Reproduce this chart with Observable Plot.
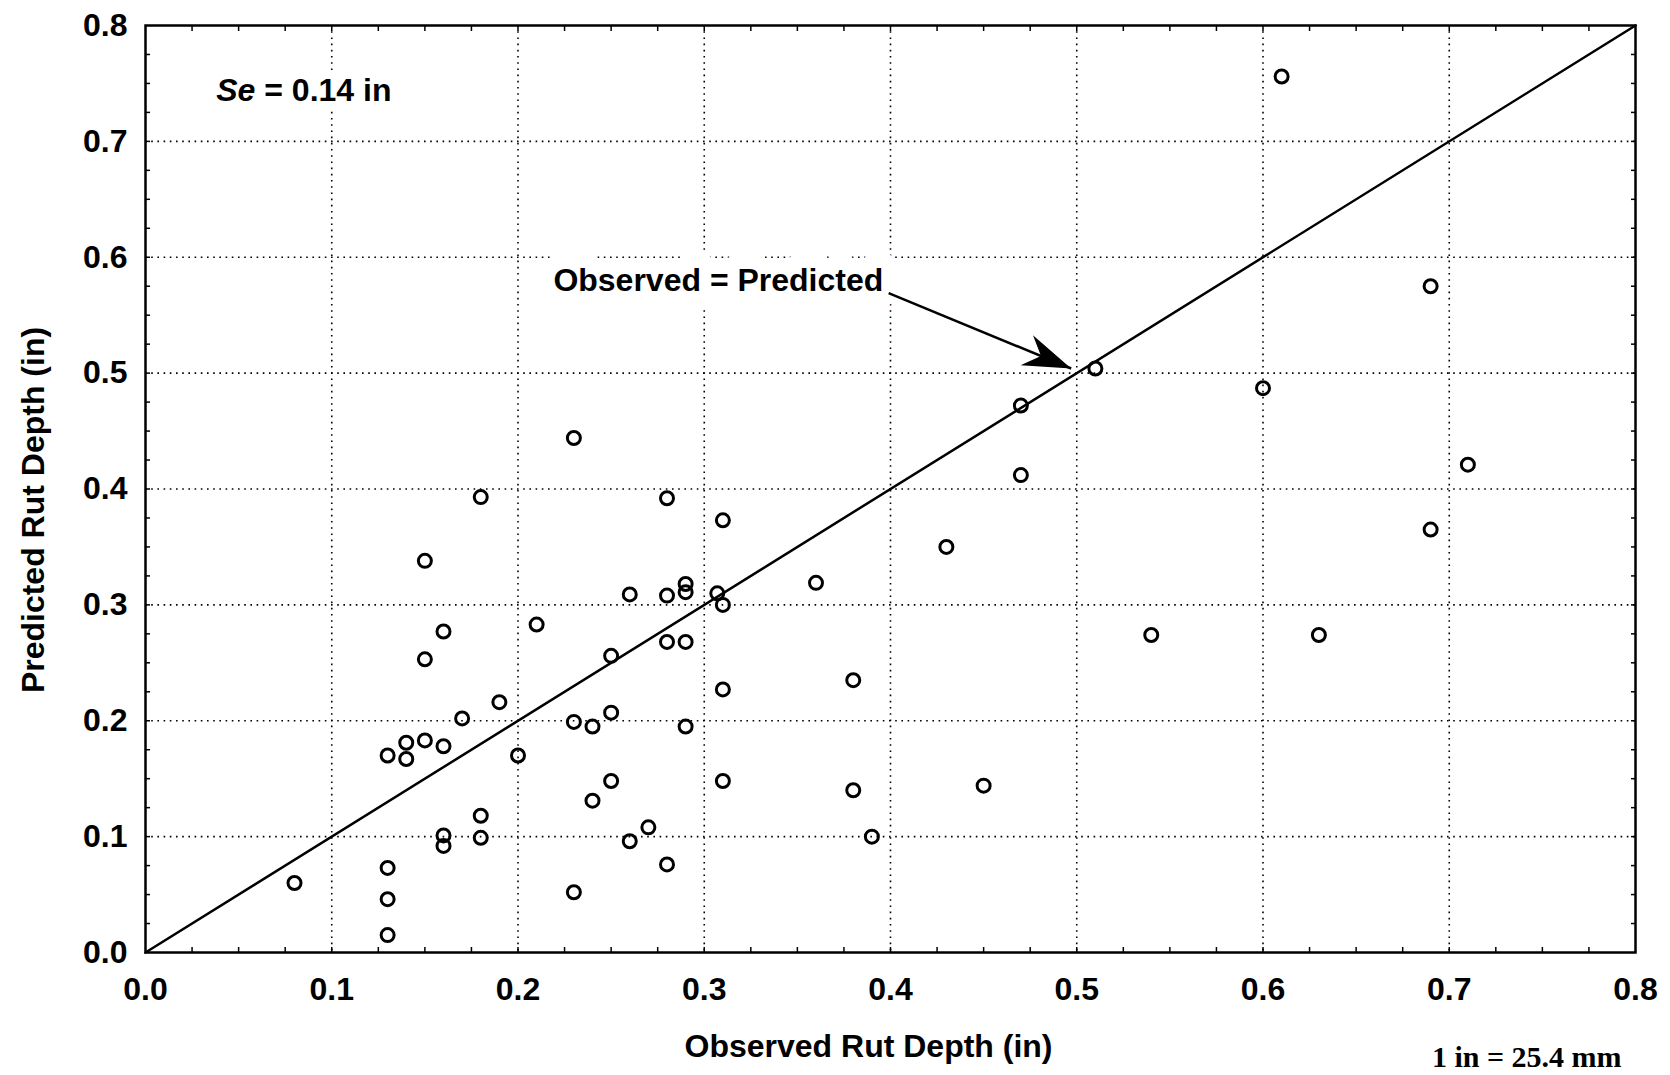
<!DOCTYPE html>
<html><head><meta charset="utf-8">
<script src="https://cdn.jsdelivr.net/npm/d3@7"></script>
<script src="https://cdn.jsdelivr.net/npm/@observablehq/plot@0.6"></script>
<style>html,body{margin:0;padding:0;background:#fff;} #chart{width:1670px;height:1075px;}</style>
</head><body><div id="chart"></div>
<script>
// ---- data ----
const observed = [0.08,0.13,0.13,0.13,0.13,0.14,0.14,0.15,0.15,0.15,0.16,0.16,0.16,0.16,0.17,0.18,0.18,0.18,0.19,0.20,0.21,0.23,0.23,0.23,0.24,0.24,0.25,0.25,0.25,0.26,0.26,0.27,0.28,0.28,0.28,0.28,0.29,0.29,0.29,0.29,0.307,0.31,0.31,0.31,0.31,0.36,0.38,0.38,0.39,0.43,0.45,0.47,0.47,0.51,0.54,0.60,0.61,0.63,0.69,0.69,0.71];
const predicted = [0.060,0.073,0.046,0.015,0.170,0.181,0.167,0.183,0.253,0.338,0.277,0.178,0.101,0.092,0.202,0.393,0.118,0.099,0.216,0.170,0.283,0.444,0.199,0.052,0.195,0.131,0.256,0.207,0.148,0.309,0.096,0.108,0.392,0.308,0.268,0.076,0.318,0.311,0.268,0.195,0.310,0.300,0.373,0.227,0.148,0.319,0.235,0.140,0.100,0.350,0.144,0.472,0.412,0.504,0.274,0.487,0.756,0.274,0.575,0.365,0.421];
const xTicks = [0,0.1,0.2,0.3,0.4,0.5,0.6,0.7,0.8];
const yTicks = [0,0.1,0.2,0.3,0.4,0.5,0.6,0.7,0.8];
const gridValues = [0.1,0.2,0.3,0.4,0.5,0.6,0.7];
const minorTicks = d3.range(1, 32).map(i => +(i * 0.025).toFixed(3));
const diagonal = [0, 0.8];
const xLabel = "Observed Rut Depth (in)";
const yLabel = "Predicted Rut Depth (in)";
const unitNote = "1 in = 25.4 mm";
const seSymbol = "Se";
const seRest = "= 0.14 in";
const seAnchor = [{x: 0.038, y: 0.744}];
const lineLabel = "Observed = Predicted";
const lineLabelAnchor = [{x: 0.219, y: 0.580}];
const arrowSeg = [{x1: 0.399, y1: 0.569, x2: 0.497, y2: 0.504}];

// ---- layout ----
const W = 1670, H = 1075, ML = 145, MR = 35, MT = 25, MB = 123;
const points = observed.map((o, i) => ({o, p: predicted[i]}));
const sx = (W - ML - MR) / 0.8, sy = (H - MT - MB) / 0.8;
const a = arrowSeg[0];
const angle = Math.atan2((a.y1 - a.y2) * sy, (a.x2 - a.x1) * sx) * 180 / Math.PI;
const arrowHead = {draw(ctx, size) {
  const r = Math.sqrt(size / Math.PI);
  const L = 4.0 * r, Wd = 1.35 * r, N = 0.68 * L;
  ctx.moveTo(0, 0); ctx.lineTo(-L, -Wd); ctx.lineTo(-N, 0); ctx.lineTo(-L, Wd); ctx.closePath();
}};
const font = "'Liberation Sans', Arial, Helvetica, sans-serif";
const grid = {stroke: "black", strokeOpacity: 1, strokeWidth: 1.6, strokeDasharray: "1.6,4.6"};
const minor = {ticks: minorTicks, tickSize: -5, fill: "none", stroke: "black", strokeWidth: 1.5, label: null};

const chart = Plot.plot({
  width: W, height: H,
  marginLeft: ML, marginRight: MR, marginTop: MT, marginBottom: MB,
  style: {fontFamily: font, fontSize: "32px", fontWeight: "bold", color: "black", background: "white"},
  x: {domain: [0, 0.8], axis: null, label: null},
  y: {domain: [0, 0.8], axis: null, label: null},
  marks: [
    Plot.gridX(gridValues, grid),
    Plot.gridY(gridValues, grid),
    Plot.line(diagonal, {x: d => d, y: d => d, stroke: "black", strokeWidth: 2.5}),
    Plot.dot(points, {x: "o", y: "p", r: 6.5, stroke: "black", strokeWidth: 3, fill: "none"}),
    // annotation texts with white halos that break the grid lines
    Plot.text(seAnchor, {x: "x", y: "y", text: () => seRest, textAnchor: "start", dx: 48, fontSize: 32, fill: "black", stroke: "white", strokeWidth: 14}),
    Plot.text(seAnchor, {x: "x", y: "y", text: () => seSymbol, textAnchor: "start", fontStyle: "italic", fontSize: 32, fill: "black", stroke: "white", strokeWidth: 14}),
    Plot.text(lineLabelAnchor, {x: "x", y: "y", text: () => lineLabel, textAnchor: "start", fontSize: 32, fill: "black", stroke: "white", strokeWidth: 32}),
    Plot.link(arrowSeg, {x1: "x1", y1: "y1", x2: "x2", y2: "y2", stroke: "black", strokeWidth: 2.5}),
    Plot.dot(arrowSeg, {x: "x2", y: "y2", symbol: arrowHead, r: 12, rotate: angle, fill: "black", stroke: "none"}),
    Plot.axisX({anchor: "bottom", ...minor}),
    Plot.axisX({anchor: "top", ...minor}),
    Plot.axisY({anchor: "left", ...minor}),
    Plot.axisY({anchor: "right", ...minor}),
    Plot.axisX({anchor: "bottom", ticks: xTicks, tickSize: 0, tickPadding: 25, tickFormat: d3.format(".1f"), label: null, fontSize: 32, fontWeight: "bold", fill: "black"}),
    Plot.axisY({anchor: "left", ticks: yTicks, tickSize: 0, tickPadding: 18, tickFormat: d3.format(".1f"), label: null, fontSize: 32, fontWeight: "bold", fill: "black"}),
    Plot.frame({stroke: "black", strokeWidth: 2.5}),
    Plot.text([xLabel], {frameAnchor: "bottom", text: d => d, textAnchor: "middle", dx: -22, dy: 94, lineAnchor: "middle", fontSize: 32, fill: "black"}),
    Plot.text([yLabel], {frameAnchor: "left", text: d => d, textAnchor: "middle", rotate: -90, dx: -112, dy: 21, lineAnchor: "middle", fontSize: 32, fill: "black"}),
    Plot.text([unitNote], {frameAnchor: "bottom-right", text: d => d, textAnchor: "end", dx: -14, dy: 105, lineAnchor: "middle", fontFamily: "'Liberation Serif', 'Times New Roman', serif", fontSize: 30, fontWeight: "bold", fill: "black"})
  ]
});
document.getElementById("chart").appendChild(chart);
</script>
</body></html>
